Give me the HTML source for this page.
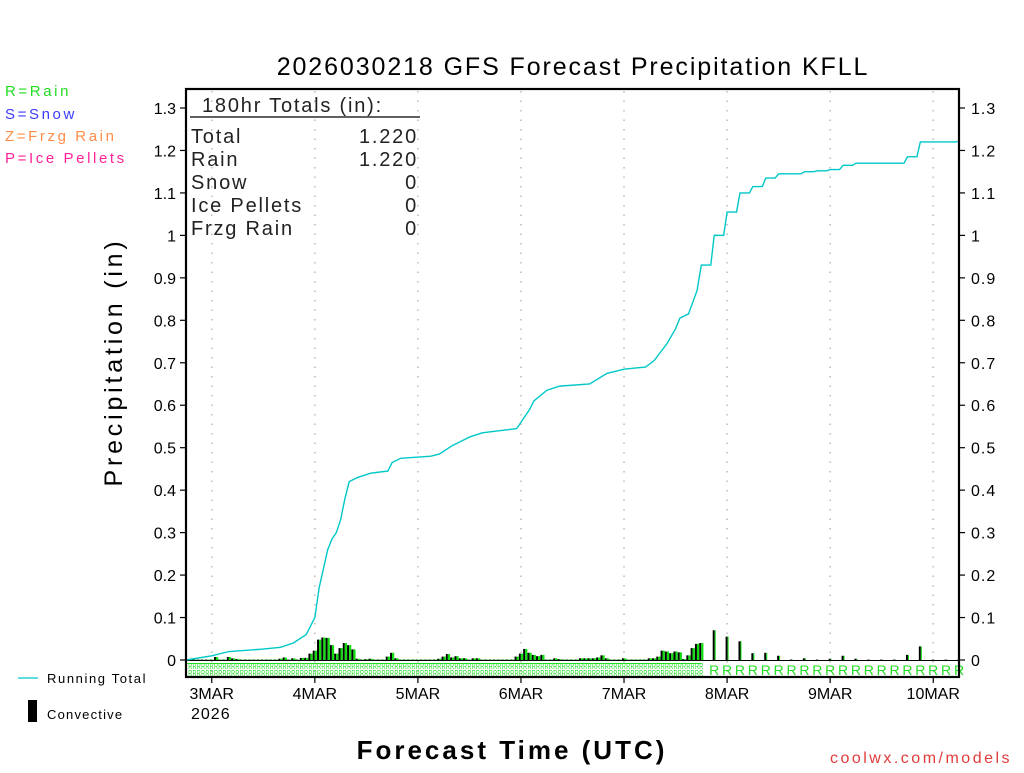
<!DOCTYPE html>
<html><head><meta charset="utf-8"><style>
body{margin:0;background:#fff;}
svg text{font-family:"Liberation Sans","DejaVu Sans",sans-serif;}
</style></head><body>
<svg id="c" width="1024" height="768" xmlns="http://www.w3.org/2000/svg">
<rect width="1024" height="768" fill="#fff"/>
<text x="573" y="75" font-size="25" text-anchor="middle" letter-spacing="1.9">2026030218 GFS Forecast Precipitation KFLL</text>
<text x="5" y="96" font-size="15" fill="#22dd22" letter-spacing="2.6">R=Rain</text>
<text x="5" y="119" font-size="15" fill="#3b3bff" letter-spacing="2.6">S=Snow</text>
<text x="5" y="141" font-size="15" fill="#ff8c4a" letter-spacing="2.6">Z=Frzg Rain</text>
<text x="5" y="163" font-size="15" fill="#ff2299" letter-spacing="2.6">P=Ice Pellets</text>
<text transform="translate(122,362) rotate(-90)" font-size="25" text-anchor="middle" letter-spacing="3.8">Precipitation (in)</text>
<text x="512" y="759" font-size="26" font-weight="bold" text-anchor="middle" letter-spacing="3">Forecast Time (UTC)</text>
<text x="921" y="763" font-size="16" fill="#e03c3c" text-anchor="middle" letter-spacing="2.5">coolwx.com/models</text>
<line x1="18" y1="678" x2="38" y2="678" stroke="#00c8c8" stroke-width="1.2"/>
<text x="47" y="683" font-size="13" letter-spacing="1.6">Running Total</text>
<rect x="28" y="700" width="9" height="22" fill="#000"/>
<text x="47" y="719" font-size="13" letter-spacing="1.2">Convective</text>
<g id="plot"></g>
<g font-size="20" letter-spacing="1.8" fill="#222">
<text x="202" y="112">180hr Totals (in):</text>
<line x1="190" y1="117" x2="420" y2="117" stroke="#000" stroke-width="1.2"/>
<text x="191" y="143">Total</text><text x="418" y="143" text-anchor="end">1.220</text>
<text x="191" y="166">Rain</text><text x="418" y="166" text-anchor="end">1.220</text>
<text x="191" y="189">Snow</text><text x="418" y="189" text-anchor="end">0</text>
<text x="191" y="212">Ice Pellets</text><text x="418" y="212" text-anchor="end">0</text>
<text x="191" y="235">Frzg Rain</text><text x="418" y="235" text-anchor="end">0</text>
</g>
</svg>
<script>
// Running total: [hour, inches]
const totalHours = [0,6,10,17,22,25,28,29,30,31,33,34,35,36,37,38,40,43,47,48,50,57,59,62,64,66,69,73,77,78,80,81,84,87,94,98,102,107,109,112,114,115,117,119,120,123,126,129,132,135,138,141,144,147,150,153,156,159,162,165,168,171,174,177,180];
const totalValues = [0,0.01,0.02,0.025,0.03,0.04,0.06,0.08,0.1,0.17,0.26,0.285,0.3,0.33,0.38,0.42,0.43,0.44,0.445,0.465,0.475,0.48,0.485,0.505,0.515,0.525,0.535,0.54,0.545,0.56,0.59,0.61,0.635,0.645,0.65,0.675,0.685,0.69,0.705,0.745,0.78,0.805,0.815,0.87,0.93,1.0,1.055,1.1,1.115,1.135,1.145,1.145,1.15,1.152,1.155,1.165,1.17,1.17,1.17,1.17,1.185,1.22,1.22,1.22,1.222];
// Hourly bars, hours 1..120
const hourlyBars = [0.001,0.001,0.001,0.001,0.001,0.001,0.007,0.001,0.001,0.007,0.004,0.002,0.001,0.001,0.001,0.001,0.001,0.001,0.001,0.001,0.001,0.003,0.006,0.001,0.004,0.001,0.005,0.005,0.015,0.022,0.048,0.053,0.052,0.035,0.015,0.028,0.04,0.035,0.025,0.003,0.001,0.002,0.003,0.001,0.001,0.001,0.008,0.017,0.004,0.001,0.001,0.001,0.001,0.001,0.001,0.001,0.001,0.001,0.003,0.008,0.014,0.006,0.009,0.004,0.004,0.001,0.004,0.004,0.001,0.001,0.001,0.001,0.001,0.001,0.001,0.001,0.008,0.015,0.026,0.017,0.012,0.009,0.012,0.001,0.001,0.004,0.002,0.001,0.001,0.001,0.001,0.004,0.004,0.004,0.004,0.006,0.011,0.004,0.001,0.001,0.001,0.004,0.001,0.001,0.001,0.001,0.001,0.004,0.004,0.008,0.022,0.02,0.016,0.02,0.018,0.002,0.011,0.028,0.038,0.04];
// 3-hourly bars, hours 123..180
const threeHourBars = [0.07,0.055,0.044,0.016,0.017,0.01,0.001,0.004,0.001,0.003,0.01,0.003,0.001,0.001,0.001,0.012,0.032,0.001,0.001,0.001];
const yTicks = [0,0.1,0.2,0.3,0.4,0.5,0.6,0.7,0.8,0.9,1,1.1,1.2,1.3];
const yTickLabels = ["0","0.1","0.2","0.3","0.4","0.5","0.6","0.7","0.8","0.9","1","1.1","1.2","1.3"];
const dayHours = [6,30,54,78,102,126,150,174];
const dayLabels = ["3MAR","4MAR","5MAR","6MAR","7MAR","8MAR","9MAR","10MAR"];

const L=186,R=959,T=89,B=677,Y0=660,Y13=108;
const xs=h=>L+(R-L)*h/180;
const ys=v=>Y0-(Y0-Y13)*v/1.3;
const NS="http://www.w3.org/2000/svg";
const g=document.getElementById('plot');
function mk(t,a,p){const e=document.createElementNS(NS,t);for(const k in a)e.setAttribute(k,a[k]);(p||g).appendChild(e);return e;}

dayHours.forEach((h,i)=>{
  const l=mk('line',{x1:xs(h),y1:T+2,x2:xs(h),y2:B,stroke:'#bbb','stroke-width':1.5,'stroke-dasharray':'1.5,8'});
  
  
  const tk=mk('line',{x1:xs(h),y1:B,x2:xs(h),y2:B+6,stroke:'#000','stroke-width':1.2});
  
  
  const t=mk('text',{x:xs(h),y:B+22,'font-size':16,'text-anchor':'middle'});
  t.textContent=dayLabels[i];
  
  
});
const yr=mk('text',{x:191,y:B+42,'font-size':16,'letter-spacing':1});yr.textContent='2026';



yTicks.forEach((v,i)=>{
  const y=ys(v);
  mk('line',{x1:L-6,y1:y,x2:L,y2:y,stroke:'#000','stroke-width':1.2});
  mk('line',{x1:R,y1:y,x2:R+6,y2:y,stroke:'#000','stroke-width':1.2});
  const a=mk('text',{x:L-10,y:y+6,'font-size':16,'text-anchor':'end'});a.textContent=yTickLabels[i];
  
  
  const b=mk('text',{x:R+12,y:y+6,'font-size':16,'letter-spacing':1});b.textContent=yTickLabels[i];
  
  
});

for(let h=1;h<=120;h++){
  const x=xs(h)-2.1;
  [669,676].forEach(yy=>{const t=mk('text',{x:x,y:yy,'font-size':8,fill:'#22dd22',textLength:4,lengthAdjust:'spacingAndGlyphs'});t.textContent='R';});
}
mk('rect',{x:L,y:663,width:xs(120)-L,height:1,fill:'#22dd22'});
for(let i=0;i<threeHourBars.length;i++){
  const h=123+3*i;
  const t=mk('text',{x:xs(h),y:675,'font-size':14,fill:'#22dd22','text-anchor':'middle'});t.textContent='R';
  
  
}

hourlyBars.forEach((v,i)=>{
  const h=i+1,x=xs(h)-2.1,y=ys(v);
  const r=mk('rect',{x:x,y:y,width:2,height:Y0-y,fill:'#000'});
  
  
  mk('rect',{x:x+2,y:y,width:2.2,height:Y0-y,fill:'#11dd11'});
});
threeHourBars.forEach((v,i)=>{
  const h=123+3*i,x=xs(h)-1.5,y=ys(v);
  const r=mk('rect',{x:x,y:y,width:2,height:Y0-y,fill:'#000'});
  
  
  mk('rect',{x:x+2,y:y,width:1,height:Y0-y,fill:'#11dd11'});
});
mk('line',{x1:L,y1:Y0+0.5,x2:R,y2:Y0+0.5,stroke:'#000','stroke-width':1});

const pts=[];
totalHours.forEach((h,i)=>{
  if(i>0 && h>120 && totalHours[i-1]>=120){
    pts.push(xs(h-0.8)+','+ys(totalValues[i-1]));
  }
  pts.push(xs(h)+','+ys(totalValues[i]));
});
const p=mk('polyline',{fill:'none',stroke:'#00c8c8','stroke-width':1.4,points:pts.join(' ')});



const f=mk('rect',{x:L,y:T,width:R-L,height:B-T,fill:'none',stroke:'#000','stroke-width':2.2});


</script>
</body></html>
